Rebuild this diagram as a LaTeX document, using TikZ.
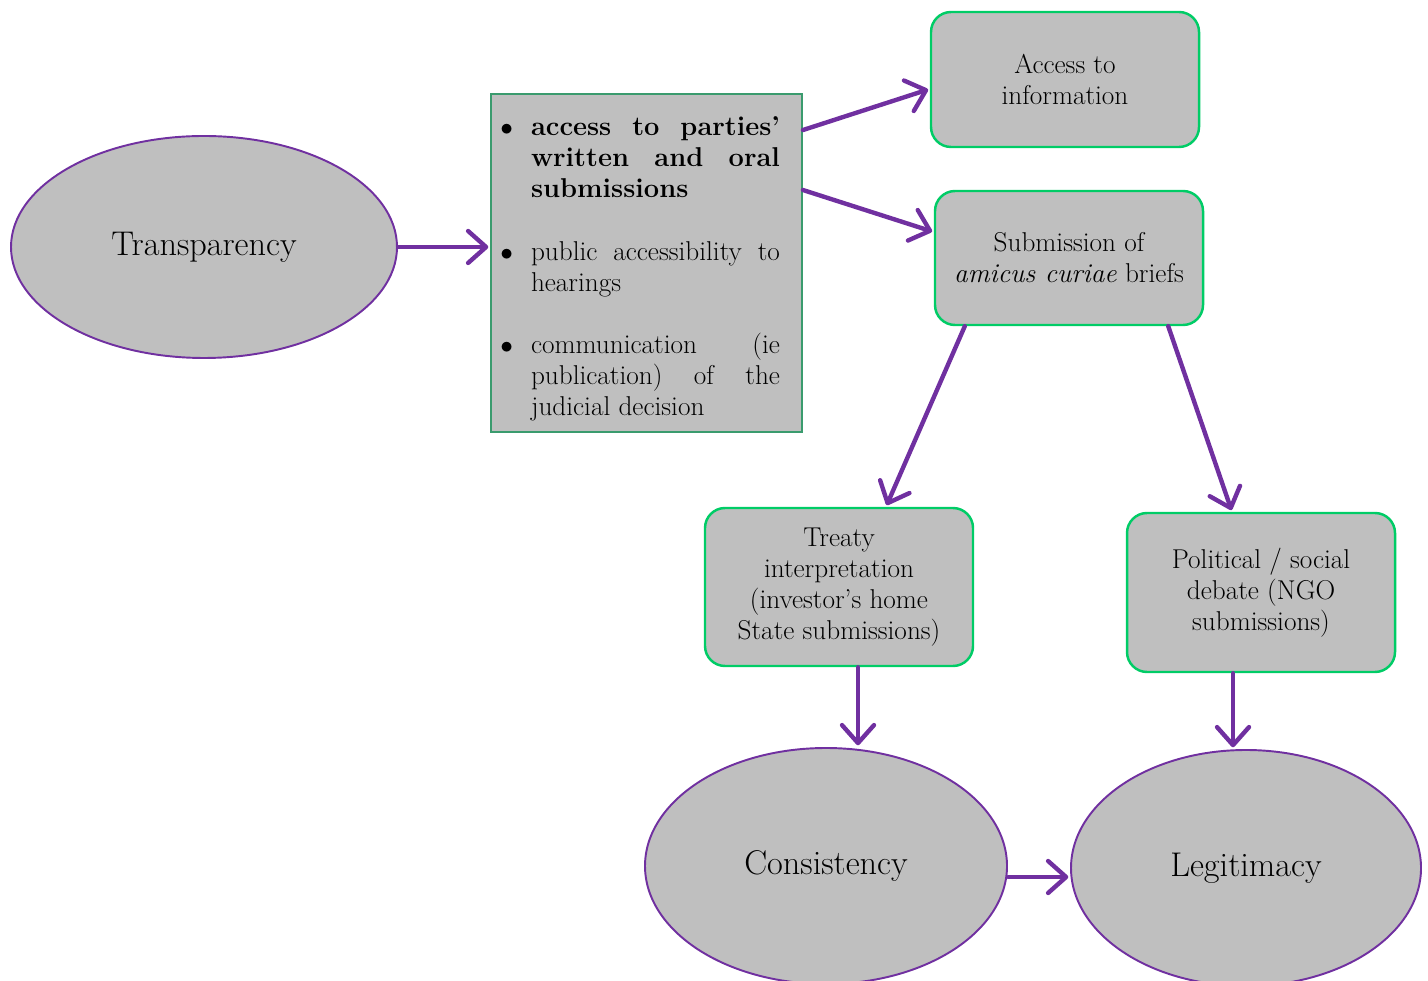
\documentclass[tikz,border=0pt]{standalone}
\usepackage{tikz}
\usetikzlibrary{arrows.meta, shapes.geometric, positioning}
\usepackage{enumitem}
\definecolor{traitviolet}{RGB}{112,48,160}
\definecolor{fondgris}{RGB}{191,191,191}
\definecolor{vertclair}{RGB}{0,204,102}
\definecolor{vertfonce}{RGB}{58,155,110}
\tikzstyle{fleche} = [-{Straight Barb[length=3.6mm,width=6.4mm,round]},line width=2.5pt,line cap=round,draw=traitviolet,shorten >=1pt]
\tikzstyle{bulle} = [ellipse,draw=traitviolet,line width=1.1pt,fill=fondgris,inner sep=0pt,font=\fontsize{19.5}{23}\selectfont]
\tikzstyle{boite} = [rectangle,rounded corners=0.4cm,draw=vertclair,line width=1.4pt,fill=fondgris,minimum width=5.36cm,align=center,inner sep=2pt,font=\fontsize{15.5}{17.6}\selectfont]
\tikzstyle{liste} = [rectangle,draw=vertfonce,line width=1.1pt,fill=fondgris,minimum width=6.22cm,minimum height=6.76cm]

\begin{document}
\begin{tikzpicture}
	\useasboundingbox (0,0) rectangle (28.56,19.6);

%% Les ellipses
	\node[bulle,minimum width=7.72cm,minimum height=4.44cm] (transp) at (4.08,14.66) {Transparency};
	\node[bulle,minimum width=7.24cm,minimum height=4.72cm] (consist) at (16.52,2.28) {Consistency};
	\node[bulle,minimum width=7.0cm,minimum height=4.72cm] (legit) at (24.92,2.24) {Legitimacy};

%% La liste
	\node[liste] (subs) at (12.93,14.34) {};
	\node[text width=5.48cm,align=justify,inner sep=0pt,font=\fontsize{15.5}{17.6}\selectfont] (subtext) at (12.86,14.34) {%
	\begin{itemize}[leftmargin=0.5cm,labelsep=0.36cm,itemsep=18pt,topsep=0pt,parsep=0pt,partopsep=0pt,label={$\bullet$}]
		\item \textbf{access to parties'\linebreak written and oral\linebreak submissions}
		\item public accessibility to\linebreak hearings
		\item communication (ie\linebreak publication) of the\linebreak judicial decision
	\end{itemize}};

%% Les boites
	\node[boite,minimum height=2.7cm] (access) at (21.3,18.01) {Access to\\information};
	\node[boite,minimum height=2.68cm] (amicus) at (21.38,14.44) {Submission of\\\emph{amicus curiae} briefs};
	\node[boite,minimum height=3.16cm] (treaty) at (16.78,7.86) {Treaty\\interpretation\\(investor's home\\State submissions)};
	\node[boite,minimum height=3.18cm] (polit) at (25.22,7.75) {Political / social\\debate (NGO\\submissions)};

%% Les fleches
	\draw[fleche] (transp.east) -- (transp.east -| subs.west);
	\draw[fleche] ([yshift=-0.74cm]subs.north east) -- ([yshift=-0.19cm]access.west);
	\draw[fleche] ([yshift=-1.94cm]subs.north east) -- ([yshift=0.52cm]amicus.west);
	\draw[fleche] ([xshift=0.62cm]amicus.south west) -- ([xshift=0.94cm]treaty.north);
	\draw[fleche] ([xshift=-0.72cm]amicus.south east) -- ([xshift=-0.58cm]polit.north);
	\draw[fleche] ([xshift=0.38cm]treaty.south) -- ([xshift=0.38cm]treaty.south |- consist.north);
	\draw[fleche] ([xshift=-0.56cm]polit.south) -- ([xshift=-0.56cm]polit.south |- legit.north);
	\draw[fleche] ([yshift=-0.22cm]consist.east) -- ([yshift=-0.22cm]consist.east -| legit.west);

\end{tikzpicture}
\end{document}
